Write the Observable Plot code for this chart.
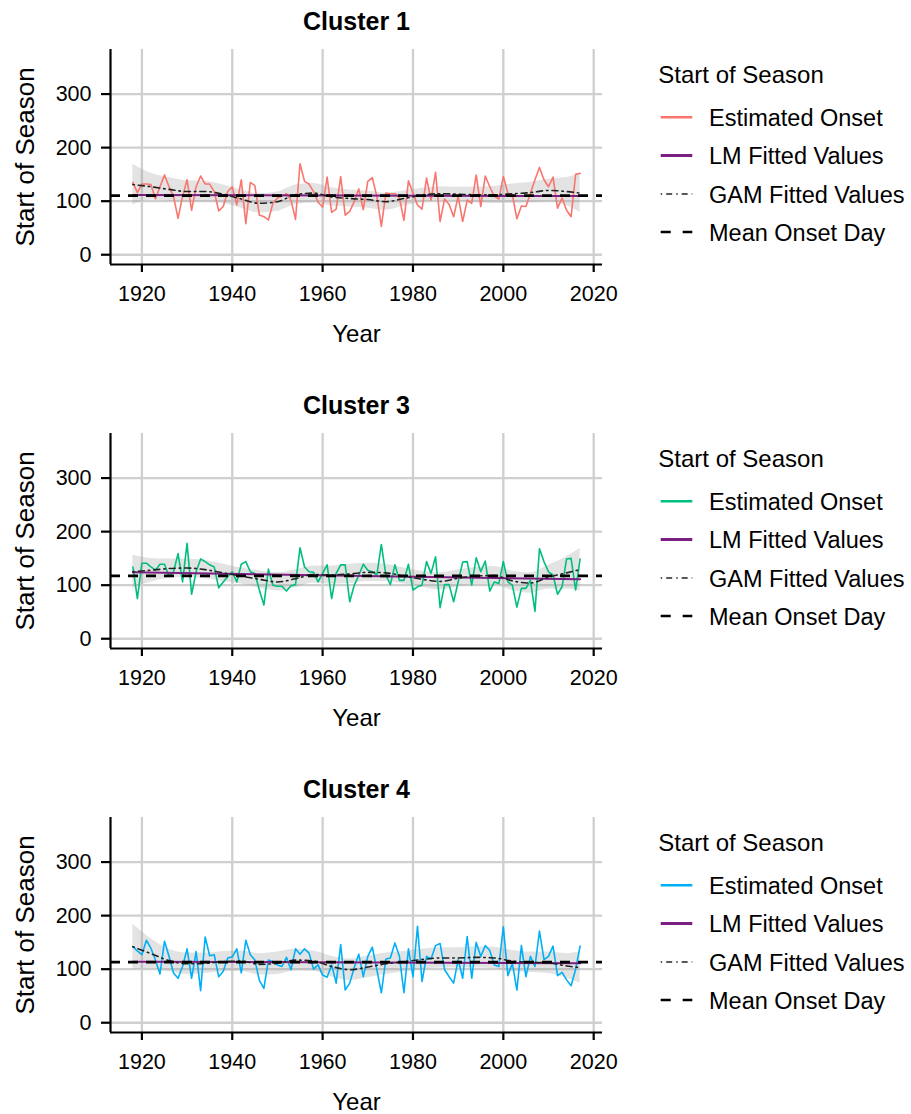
<!DOCTYPE html>
<html><head><meta charset="utf-8">
<script src="https://cdn.jsdelivr.net/npm/d3@7"></script>
<script src="https://cdn.jsdelivr.net/npm/@observablehq/plot@0.6"></script>
<style>
html,body{margin:0;padding:0;background:#fff;overflow:hidden;}
#root{position:relative;width:911px;height:1114px;font-family:"Liberation Sans",Arial,Helvetica,sans-serif;}
.row{position:absolute;left:0;width:911px;}
.row > svg{position:absolute;top:0;}
</style></head><body><div id="root"></div>
<script>
// ---------- data ----------
const firstYear = 1918;
const xTicks = [1920, 1940, 1960, 1980, 2000, 2020];
const yTicks = [0, 100, 200, 300];
const titles = ["Cluster 1", "Cluster 3", "Cluster 4"];
const colors = ["#F8766D", "#00BF7D", "#00B0F6"];
const legendTitle = "Start of Season";
const legendLabels = ["Estimated Onset", "LM Fitted Values", "GAM Fitted Values", "Mean Onset Day"];

// estimated onset day, 1918..2017
const onset1 = [135,116,132,132,131,104,127,149,127,109, 68,109,140,83,127,147,132,132,118,82,
  90,118,127,93,140,58,135,129,74,71, 65,96,106,109,114,102,66,170,137,132,
  118,98,89,145,79,85,146,74,81,99, 123,84,137,144,109,53,115,114,114,106,
  64,138,115,93,85,143,102,154,62,104, 94,71,109,62,102,96,149,90,147,127,
  109,104,146,115,112,67,91,90,115,140, 163,140,127,145,87,106,83,71,150,152];
const onset3 = [134,75,141,141,134,128,139,139,117,125, 159,106,178,83,125,149,144,138,134,95,
  106,116,125,106,139,144,125,122,91,63, 130,100,98,98,89,99,101,170,134,125,
  124,106,122,138,75,122,138,138,69,100, 118,139,128,125,119,176,119,101,138,109,
  109,139,91,97,100,144,122,153,58,101, 101,69,106,143,144,100,151,125,145,89,
  106,103,144,106,100,59,94,94,109,51, 168,144,125,119,83,97,149,150,91,149];
const onset4 = [142,134,127,154,139,117,91,152,124,93, 83,105,138,83,133,60,160,125,127,86,
  96,121,123,138,93,154,127,117,79,64, 117,114,108,105,122,99,138,128,138,130,
  100,108,89,85,108,74,146,61,74,103, 128,86,124,141,99,56,119,121,149,124,
  56,138,86,180,77,124,119,144,148,99, 86,74,118,83,161,83,150,124,144,135,
  108,105,179,88,111,61,144,86,124,105, 171,118,124,143,88,94,80,69,100,143];

// GAM fit read at knot years, with band half-widths
const knotYears = [1918,1922,1926,1930,1934,1938,1942,1946,1950,1954,1958,1962,1966,1970,1974,1978,1982,1986,1990,1994,1998,2002,2006,2010,2014,2017];
const gam1 = [131,127,122,118,118,113,104,96,99,112,115,108,105,103,99,105,111,114,113,112,112,114,116,120,118,115];
const hw1  = [38,25,22,20,19,17,17,18,18,18,18,17,16,16,16,14,13,13,13,14,16,18,19,21,26,36];
const gam3 = [125,128,131,132,129,123,117,111,106,112,120,119,121,124,123,117,111,107,113,117,118,108,104,115,123,129];
const hw3  = [31,22,18,17,17,16,15,16,17,17,16,17,18,17,16,15,15,16,16,16,17,18,19,22,30,40];
const gam4 = [142,129,116,110,111,114,115,109,111,117,115,105,99,104,110,114,118,121,121,122,121,115,113,112,106,103];
const hw4  = [42,28,21,20,19,19,19,20,21,20,19,19,20,20,20,19,19,19,19,20,20,20,19,20,23,29];

// LM fitted endpoints (1918, 2017) and mean onset day
const lmYears = [1918, 2017];
const lm1 = [111.5, 109.5];
const lm3 = [124, 111];
const lm4 = [114, 111];
const means = [110.5, 117.5, 113];

// ---------- drawing ----------
const font = '"Liberation Sans", Arial, Helvetica, sans-serif';
const purple = "#7B1F82";
const xDom = [1913.05, 2021.95];
const yDom = [-18.25, 383.25];
const gamDash = "1.5,4,6,4";
const meanDash = "10,8";

const clusters = [
  {onset: onset1, gam: gam1, hw: hw1, lm: lm1},
  {onset: onset3, gam: gam3, hw: hw3, lm: lm3},
  {onset: onset4, gam: gam4, hw: hw4, lm: lm4}
];

const root = document.getElementById("root");
clusters.forEach((c, i) => {
  const rowH = i === 2 ? 346 : 384;
  const row = document.createElement("div");
  row.className = "row";
  row.style.top = (i * 384) + "px";
  row.style.height = rowH + "px";
  root.appendChild(row);

  const data = c.onset.map((v, k) => ({year: firstYear + k, v}));
  const gam = knotYears.map((y, k) => ({year: y, g: c.gam[k], lo: c.gam[k] - c.hw[k], hi: c.gam[k] + c.hw[k]}));
  const lm = lmYears.map((y, k) => ({year: y, v: c.lm[k]}));

  const chart = Plot.plot({
    width: 640, height: rowH,
    marginLeft: 110, marginRight: 38, marginTop: 49, marginBottom: rowH - 264,
    x: {domain: xDom},
    y: {domain: yDom},
    style: {fontFamily: font, background: "white", color: "black", overflow: "visible"},
    marks: [
      Plot.gridX(xTicks, {stroke: "#cfcfcf", strokeOpacity: 1, strokeWidth: 2.3}),
      Plot.gridY(yTicks, {stroke: "#cfcfcf", strokeOpacity: 1, strokeWidth: 2.3}),
      Plot.areaY(gam, {x: "year", y1: "lo", y2: "hi", curve: "monotone-x", fill: "#999999", fillOpacity: 0.28}),
      Plot.lineY(data, {x: "year", y: "v", stroke: colors[i], strokeWidth: 1.6}),
      Plot.line(lm, {x: "year", y: "v", stroke: purple, strokeWidth: 2}),
      Plot.lineY(gam, {x: "year", y: "g", curve: "monotone-x", stroke: "#222222", strokeWidth: 1.6, strokeDasharray: gamDash}),
      Plot.ruleY([means[i]], {stroke: "black", strokeWidth: 2.7, strokeDasharray: meanDash}),
      Plot.ruleX([xDom[0]], {stroke: "black", strokeWidth: 2.2}),
      Plot.ruleY([yDom[0]], {stroke: "black", strokeWidth: 2.2}),
      Plot.axisX({ticks: xTicks, tickSize: 8, tickPadding: 13, fontSize: 21.5, strokeWidth: 2.2, tickFormat: d => `${d}`, label: null}),
      Plot.axisY({ticks: yTicks, tickSize: 9, tickPadding: 10, fontSize: 21.5, strokeWidth: 2.2, tickFormat: d => `${d}`, label: null}),
      Plot.text([titles[i]], {text: d => d, frameAnchor: "top", lineAnchor: "bottom", dy: -20, fontSize: 25, fontWeight: "bold", fill: "black"}),
      Plot.text(["Year"], {text: d => d, frameAnchor: "bottom", lineAnchor: "bottom", dy: 77, fontSize: 24, fill: "black"}),
      Plot.text(["Start of Season"], {text: d => d, frameAnchor: "left", textAnchor: "middle", rotate: -90, lineAnchor: "bottom", dx: -77, fontSize: 26, fill: "black"})
    ]
  });
  chart.style.left = "0px";
  row.appendChild(chart);

  // legend
  const svg = d3.create("svg").attr("width", 271).attr("height", rowH)
    .style("position", "absolute").style("left", "640px").style("top", "0px")
    .style("font-family", font);
  svg.append("text").attr("x", 18.3).attr("y", 83.3).attr("font-size", 24).text(legendTitle);
  const ys = [117.3, 155.5, 194, 232];
  const keyStyles = [
    {stroke: colors[i], w: 2.6, dash: null},
    {stroke: purple, w: 2.8, dash: null},
    {stroke: "#222222", w: 1.5, dash: gamDash},
    {stroke: "black", w: 2.7, dash: "10,12"}
  ];
  legendLabels.forEach((lab, k) => {
    const s = keyStyles[k];
    const ln = svg.append("line").attr("x1", 20.7).attr("x2", 52.3).attr("y1", ys[k]).attr("y2", ys[k])
      .attr("stroke", s.stroke).attr("stroke-width", s.w);
    if (s.dash) ln.attr("stroke-dasharray", s.dash);
    svg.append("text").attr("x", 69).attr("y", ys[k] + 8.7).attr("font-size", 23.5).text(lab);
  });
  row.appendChild(svg.node());
});
</script>
</body></html>
